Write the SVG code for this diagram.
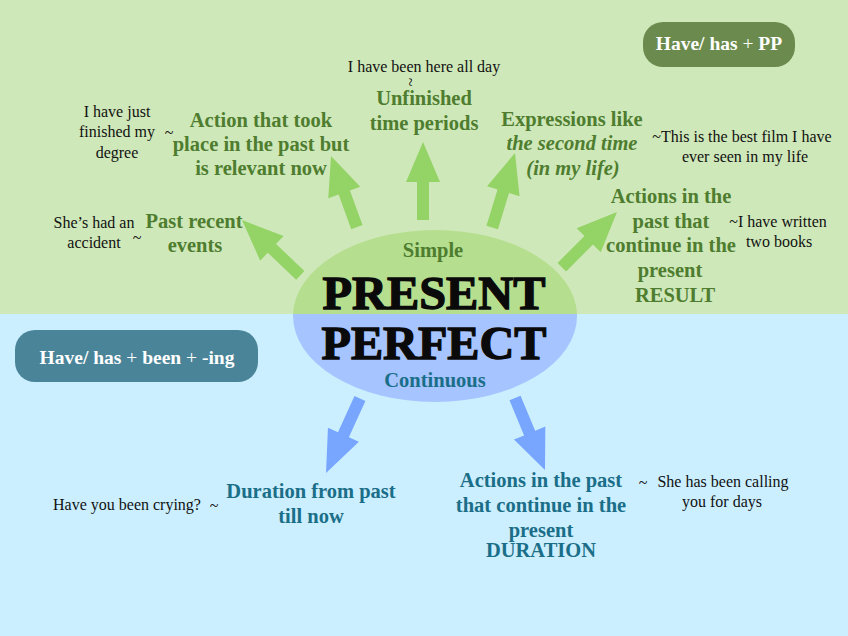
<svg xmlns="http://www.w3.org/2000/svg" width="848" height="636" viewBox="0 0 848 636">
<style>
.lbl{font-family:"Liberation Serif",serif;font-weight:bold;font-size:20.5px;fill:#4e7d2f;text-anchor:middle}
.lblb{font-family:"Liberation Serif",serif;font-weight:bold;font-size:20.5px;fill:#1b6e88;text-anchor:middle}
.ex{font-family:"Liberation Serif",serif;font-size:16px;fill:#111;text-anchor:middle}
.big{font-family:"Liberation Serif",serif;font-weight:bold;font-size:47px;fill:#0a0a0a;stroke:#0a0a0a;stroke-width:1.3;text-anchor:middle}
.box{font-family:"Liberation Serif",serif;font-weight:bold;font-size:19.5px;fill:#fff;text-anchor:middle}
.ga{fill:#94d366}
.ba{fill:#78a6ff}
</style>
<defs>
<path id="arr" d="M0,0 L17,40 L6,40 L6,78 L-6,78 L-6,40 L-17,40 Z"/>
<clipPath id="ct"><rect x="0" y="0" width="848" height="314"/></clipPath>
<clipPath id="cb"><rect x="0" y="314" width="848" height="322"/></clipPath>
</defs>
<rect x="0" y="0" width="848" height="314" fill="#cfe8b9"/>
<rect x="0" y="314" width="848" height="322" fill="#cbefff"/>

<g id="center">
<ellipse cx="435" cy="316" rx="142" ry="86" fill="#b5de8f" clip-path="url(#ct)"/>
<ellipse cx="435" cy="316" rx="142" ry="86" fill="#a6c4ff" clip-path="url(#cb)"/>
<text class="lbl" x="433" y="257">Simple</text>
<text class="big" x="434" y="309" textLength="223" lengthAdjust="spacingAndGlyphs">PRESENT</text>
<text class="big" x="434" y="359" textLength="225" lengthAdjust="spacingAndGlyphs">PERFECT</text>
<text class="lblb" x="435" y="387">Continuous</text>
</g>

<g id="connectors">
<use href="#arr" class="ga" transform="translate(242,220) rotate(-46.5) scale(1,1.03)"/>
<use href="#arr" class="ga" transform="translate(331,156) rotate(-20) scale(1,0.97)"/>
<use href="#arr" class="ga" transform="translate(423,142)"/>
<use href="#arr" class="ga" transform="translate(515,153) rotate(17)"/>
<use href="#arr" class="ga" transform="translate(617,212) rotate(45)"/>
<use href="#arr" class="ba" transform="translate(326,473) rotate(204.5) scale(1,1.05)"/>
<use href="#arr" class="ba" transform="translate(545,470) rotate(157.4)"/>
</g>

<g id="form-simple">
<rect x="643" y="22" width="152" height="45" rx="20" fill="#6a8b4d"/>
<text class="box" x="719" y="50">Have/ has <tspan font-weight="normal">+</tspan> PP</text>
</g>

<g id="form-continuous">
<rect x="15" y="330" width="243" height="52" rx="20" fill="#4a8499"/>
<text class="box" x="137" y="364">Have/ has <tspan font-weight="normal">+</tspan> been <tspan font-weight="normal">+</tspan> -ing</text>
</g>

<g id="past-recent">
<text class="lbl" x="194" y="228">Past recent</text>
<text class="lbl" x="195" y="252">events</text>
<text class="ex" x="94" y="228">She’s had an</text>
<text class="ex" x="94" y="248">accident</text>
<text class="ex" x="137" y="243">~</text>
</g>

<g id="relevant-now">
<text class="lbl" x="261" y="127">Action that took</text>
<text class="lbl" x="261" y="151">place in the past but</text>
<text class="lbl" x="261" y="175">is relevant now</text>
<text class="ex" x="117" y="117">I have just</text>
<text class="ex" x="117" y="137">finished my</text>
<text class="ex" x="117" y="158">degree</text>
<text class="ex" x="169" y="138">~</text>
</g>

<g id="unfinished">
<text class="lbl" x="424" y="105">Unfinished</text>
<text class="lbl" x="424" y="130">time periods</text>
<text class="ex" x="424" y="72">I have been here all day</text>
<text class="ex" font-size="11" transform="translate(405,82) rotate(90)">~</text>
</g>

<g id="expressions">
<text class="lbl" x="572" y="126">Expressions like</text>
<text class="lbl" x="572" y="150" font-style="italic">the second time</text>
<text class="lbl" x="573" y="175" font-style="italic">(in my life)</text>
<text class="ex" x="742" y="142">~This is the best film I have</text>
<text class="ex" x="745" y="162">ever seen in my life</text>
</g>

<g id="result">
<text class="lbl" x="671" y="203">Actions in the</text>
<text class="lbl" x="671" y="228">past that</text>
<text class="lbl" x="671" y="252">continue in the</text>
<text class="lbl" x="670" y="277">present</text>
<text class="lbl" x="675" y="302" fill="#2c561c">RESULT</text>
<text class="ex" x="778" y="227">~I have written</text>
<text class="ex" x="779" y="247">two books</text>
</g>

<g id="duration-past">
<text class="lblb" x="311" y="498">Duration from past</text>
<text class="lblb" x="311" y="523">till now</text>
<text class="ex" x="127" y="510">Have you been crying?</text>
<text class="ex" x="214" y="511">~</text>
</g>

<g id="duration">
<text class="lblb" x="541" y="487">Actions in the past</text>
<text class="lblb" x="541" y="512">that continue in the</text>
<text class="lblb" x="541" y="537">present</text>
<text class="lblb" x="541" y="557" fill="#0f4b63">DURATION</text>
<text class="ex" x="643" y="488">~</text>
<text class="ex" x="723" y="487">She has been calling</text>
<text class="ex" x="722" y="507">you for days</text>
</g>
</svg>
